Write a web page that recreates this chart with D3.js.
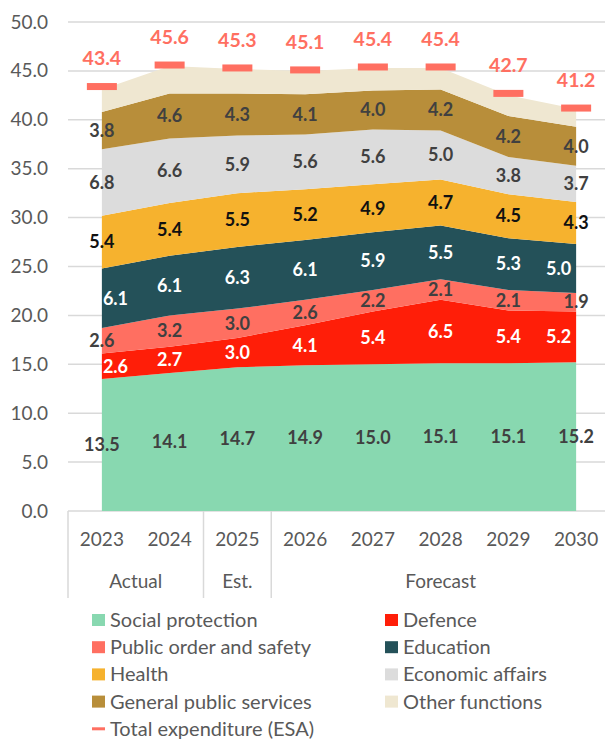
<!DOCTYPE html>
<meta charset="utf-8">
<script src="https://cdn.jsdelivr.net/npm/d3@7"></script>
<style>
  body { margin: 0; background: #fff; }
  text { font-family: Lato, "Open Sans", sans-serif; }
</style>
<div id="chart"></div>
<script>

// data
var years = ["2023", "2024", "2025", "2026", "2027", "2028", "2029", "2030"];
var groups = [
  { name: "Actual", from: "2023", to: "2024" },
  { name: "Est.", from: "2025", to: "2025" },
  { name: "Forecast", from: "2026", to: "2030" }
];
var socialProtection = [13.5, 14.1, 14.7, 14.9, 15.0, 15.1, 15.1, 15.2];
var defence          = [2.6, 2.7, 3.0, 4.1, 5.4, 6.5, 5.4, 5.2];
var publicOrder      = [2.6, 3.2, 3.0, 2.6, 2.2, 2.1, 2.1, 1.9];
var education        = [6.1, 6.1, 6.3, 6.1, 5.9, 5.5, 5.3, 5.0];
var health           = [5.4, 5.4, 5.5, 5.2, 4.9, 4.7, 4.5, 4.3];
var economicAffairs  = [6.8, 6.6, 5.9, 5.6, 5.6, 5.0, 3.8, 3.7];
var generalServices  = [3.8, 4.6, 4.3, 4.1, 4.0, 4.2, 4.2, 4.0];
var otherFunctions   = [2.3, 2.8, 2.5, 2.4, 2.3, 2.2, 2.1, 1.8];
var totalExpenditure = [43.4, 45.6, 45.3, 45.1, 45.4, 45.4, 42.7, 41.2];
var yTicks = [0, 5, 10, 15, 20, 25, 30, 35, 40, 45, 50];

var series = [
  { key: "Social protection",        values: socialProtection, color: "#88D8B0", label: "#404040", show: true },
  { key: "Defence",                  values: defence,          color: "#FF1E08", label: "#ffffff", show: true },
  { key: "Public order and safety",  values: publicOrder,      color: "#FF6F61", label: "#404040", show: true },
  { key: "Education",                values: education,        color: "#245159", label: "#ffffff", show: true },
  { key: "Health",                   values: health,           color: "#F6B22E", label: "#111111", show: true },
  { key: "Economic affairs",         values: economicAffairs,  color: "#DCDCDC", label: "#404040", show: true },
  { key: "General public services",  values: generalServices,  color: "#B88E3A", label: "#404040", show: true },
  { key: "Other functions",          values: otherFunctions,   color: "#EFE7D1", label: "#404040", show: false }
];
var totalColor = "#FF6F61";

// build the table for d3.stack
var table = years.map(function(y, i) {
  var row = { year: y };
  series.forEach(function(s) { row[s.key] = s.values[i]; });
  return row;
});

var W = 605, H = 740;
var svg = d3.select("#chart").append("svg")
  .attr("width", W)
  .attr("height", H);

var x = d3.scalePoint()
  .domain(years)
  .range([68, 610])
  .padding(0.5);
var step = x.step();

var y = d3.scaleLinear()
  .domain([0, 50])
  .range([511, 22]);

// gridlines
svg.append("g")
  .selectAll("line")
  .data(yTicks)
  .enter()
  .append("line")
    .attr("x1", 68)
    .attr("x2", W)
    .attr("y1", function(d) { return y(d) })
    .attr("y2", function(d) { return y(d) })
    .attr("stroke", "#D9D9D9")
    .attr("stroke-width", 1.5)

// y axis labels
var yAxis = svg.append("g")
  .attr("transform", "translate(58,0)")
  .call(d3.axisLeft(y).tickValues(yTicks).tickFormat(d3.format(".1f")).tickSize(0).tickPadding(10));
yAxis.select(".domain").remove();
yAxis.selectAll("text")
  .attr("font-size", 19)
  .attr("fill", "#595959")
  .style("font-family", "Lato, sans-serif");

// stacked areas
var stacked = d3.stack().keys(series.map(function(s) { return s.key; }))(table);
var area = d3.area()
  .x(function(d) { return x(d.data.year) })
  .y0(function(d) { return y(d[0]) })
  .y1(function(d) { return y(d[1]) });

svg.append("g")
  .selectAll("path")
  .data(stacked)
  .enter()
  .append("path")
    .attr("fill", function(d, i) { return series[i].color })
    .attr("d", area);

// data labels in the middle of each band
// white labels at the two ends get pushed inside the area
var first = years[0], last = years[years.length - 1];
stacked.forEach(function(layer, i) {
  if (!series[i].show) return;
  var white = series[i].label == "#ffffff";
  svg.append("g")
    .selectAll("text")
    .data(layer)
    .enter()
    .append("text")
      .attr("x", function(d) {
        var cx = x(d.data.year);
        if (white && d.data.year == first) return cx + 1;
        if (white && d.data.year == last) return cx - 5;
        return cx;
      })
      .attr("y", function(d) { return y((d[0] + d[1]) / 2) })
      .attr("dy", "0.35em")
      .attr("text-anchor", function(d) {
        if (white && d.data.year == first) return "start";
        if (white && d.data.year == last) return "end";
        return "middle";
      })
      .attr("font-size", 18)
      .attr("font-weight", "bold")
      .attr("fill", series[i].label)
      .text(function(d) { return d3.format(".1f")(d.data[series[i].key]) });
});

// total expenditure markers
var totals = years.map(function(yr, i) { return { year: yr, value: totalExpenditure[i] }; });
svg.append("g")
  .selectAll("rect")
  .data(totals)
  .enter()
  .append("rect")
    .attr("x", function(d) { return x(d.year) - 15 })
    .attr("y", function(d) { return y(d.value) - 3.5 })
    .attr("width", 30)
    .attr("height", 7)
    .attr("fill", totalColor);

svg.append("g")
  .selectAll("text")
  .data(totals)
  .enter()
  .append("text")
    .attr("x", function(d) { return x(d.year) })
    .attr("y", function(d) { return y(d.value) - 28 })
    .attr("dy", "0.35em")
    .attr("text-anchor", "middle")
    .attr("font-size", 19.5)
    .attr("font-weight", "bold")
    .attr("fill", totalColor)
    .text(function(d) { return d3.format(".1f")(d.value) });

// category axis: years and groups
var axisTop = y(0), axisBottom = 598;
svg.append("g")
  .selectAll("text")
  .data(years)
  .enter()
  .append("text")
    .attr("x", function(d) { return x(d) })
    .attr("y", 539)
    .attr("dy", "0.35em")
    .attr("text-anchor", "middle")
    .attr("font-size", 19)
    .attr("fill", "#595959")
    .text(function(d) { return d });

var seps = [x(years[0]) - step / 2].concat(groups.slice(0, -1).map(function(g) { return x(g.to) + step / 2; }));
svg.append("g")
  .selectAll("line")
  .data(seps)
  .enter()
  .append("line")
    .attr("x1", function(d) { return d })
    .attr("x2", function(d) { return d })
    .attr("y1", axisTop)
    .attr("y2", axisBottom)
    .attr("stroke", "#D9D9D9")
    .attr("stroke-width", 1.5);

svg.append("g")
  .selectAll("text")
  .data(groups)
  .enter()
  .append("text")
    .attr("x", function(d) { return (x(d.from) + x(d.to)) / 2 })
    .attr("y", 581)
    .attr("dy", "0.35em")
    .attr("text-anchor", "middle")
    .attr("font-size", 19)
    .attr("fill", "#595959")
    .text(function(d) { return d.name });

// legend
var legendItems = series.map(function(s) { return { key: s.key, color: s.color, line: false }; });
legendItems.push({ key: "Total expenditure (ESA)", color: totalColor, line: true });

var legend = svg.append("g")
  .selectAll("g")
  .data(legendItems)
  .enter()
  .append("g")
    .attr("transform", function(d, i) {
      return "translate(" + (i % 2 == 0 ? 92 : 385) + "," + (620 + Math.floor(i / 2) * 27.2) + ")";
    });

legend.append("rect")
  .attr("x", 0)
  .attr("y", function(d) { return d.line ? -1.5 : -6 })
  .attr("width", 13)
  .attr("height", function(d) { return d.line ? 3 : 12 })
  .attr("fill", function(d) { return d.color });

legend.append("text")
  .attr("x", 18)
  .attr("dy", "0.35em")
  .attr("font-size", 20)
  .attr("fill", "#595959")
  .text(function(d) { return d.key });

</script>
